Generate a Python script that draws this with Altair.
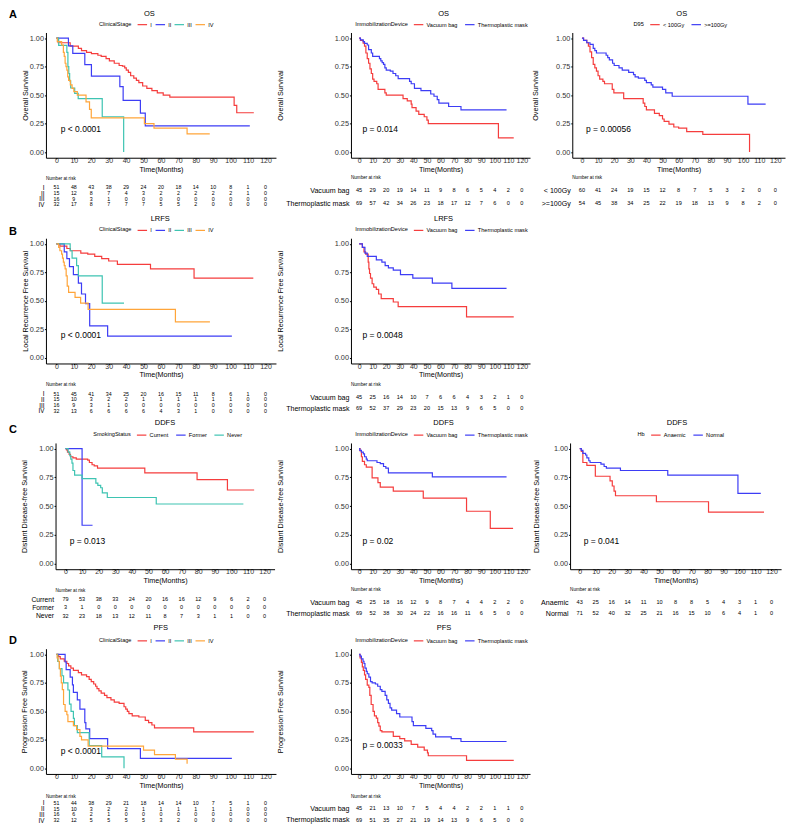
import altair as alt
import pandas as pd

FONT = "Liberation Sans"
RED, BLUE, TEAL, ORANGE = "#F53D3D", "#3D3DF5", "#3EC4B2", "#FFA53A"
XDOM = [-6, 126]
YDOM = [-0.05, 1.05]
TICKS = list(range(0, 121, 10))
PX = 2.5

# ---------------- OS ----------------
STAGES = ["I", "II", "III", "IV"]
OS_I_T = [0, 1, 7.9, 12.6, 14.4, 17.3, 20.1, 23.8, 25.7, 28.5, 30.4, 33.2, 36, 37.9, 39.2, 40.1, 41.3, 42.6, 44.4, 45.9, 47.3, 49.5, 51.9, 54.8, 57.9, 61.3, 65.1, 102, 103.5, 113.3]
OS_I_S = [1, .96, .93, .91, .89, .875, .865, .85, .84, .82, .80, .78, .76, .755, .74, .72, .70, .67, .65, .63, .61, .58, .56, .54, .52, .50, .483, .41, .345, .345]
OS_II_T = [0, 6.9, 9.4, 16.3, 20.1, 36.4, 38.3, 48.2, 51, 111]
OS_II_S = [1, .933, .867, .767, .667, .575, .454, .342, .23, .23]
OS_III_T = [0, 1.3, 6, 6.6, 7.1, 7.6, 8.2, 10.5, 12.5, 26.3, 38.6]
OS_III_S = [1, .9375, .875, .75, .69, .625, .5625, .516, .47, .31, 0]
OS_IV_T = [0, .5, 3, 4, 4.5, 5, 5.5, 6, 6.5, 7, 8, 9, 10, 12, 17, 19, 20, 50.5, 56, 75, 88]
OS_IV_S = [1, .97, .94, .875, .84, .78, .75, .72, .66, .63, .59, .56, .53, .50, .44, .375, .30, .25, .21, .16, .16]

DEVICES = ["Vacuum bag", "Thermoplastic mask"]
OS_VB_T = [0, 1, 3, 4, 5, 6, 7, 8, 9, 10, 11, 13, 14, 19, 20, 32.4, 35.5, 38.4, 39, 42, 44, 48, 50, 51, 102.7, 114]
OS_VB_S = [1, .98, .956, .93, .87, .82, .78, .73, .69, .64, .62, .60, .55, .52, .50, .47, .45, .42, .39, .36, .33, .31, .28, .25, .125, .125]
OS_TM_T = [0, 1, 3, 4, 6, 7, 9, 10, 15, 16, 17, 18, 19, 20, 23, 25, 27, 28.8, 37.2, 38.4, 40.8, 45.6, 52.8, 55.2, 57.6, 58.8, 66, 75.1, 108.7]
OS_TM_S = [1, .985, .97, .955, .94, .90, .87, .84, .82, .80, .785, .77, .74, .72, .71, .69, .67, .645, .62, .60, .56, .54, .51, .49, .46, .43, .40, .37, .37]

D95 = ["< 100Gy", ">=100Gy"]
OS_LO_T = [0, 1, 3, 4, 5, 6, 7, 8, 9, 10, 11, 13, 14, 18.8, 19.8, 25.9, 38, 39, 40, 45, 48, 50, 51, 54, 57, 60, 65, 75, 104]
OS_LO_S = [1, .98, .96, .93, .88, .83, .77, .74, .71, .67, .64, .62, .60, .55, .52, .47, .43, .40, .37, .34, .32, .29, .27, .245, .22, .21, .18, .155, 0]
OS_HI_T = [0, 1, 3, 5, 7, 8, 9, 15, 16, 17, 19, 20, 23, 25, 29, 32, 33, 35, 39, 40, 43, 44, 50, 52, 56, 103, 114]
OS_HI_S = [1, .98, .96, .945, .91, .89, .87, .85, .83, .81, .78, .76, .74, .72, .70, .68, .66, .65, .63, .61, .59, .57, .55, .52, .49, .42, .42]

# ---------------- LRFS ----------------
LR_I_T = [0, 2, 6, 8, 14, 18, 22, 26, 30, 35, 54, 79, 113]
LR_I_S = [1, .98, .96, .94, .92, .91, .89, .87, .85, .82, .78, .70, .70]
LR_II_T = [0, 4.5, 6, 7.5, 9.75, 12.6, 14.4, 16.7, 19.1, 29.4, 100.7]
LR_II_S = [1, .93, .87, .80, .73, .655, .56, .475, .28, .19, .19]
LR_III_T = [0, 7.9, 9, 11.6, 12.6, 26.3, 38.8]
LR_III_S = [1, .94, .875, .81, .72, .48, .48]
LR_IV_T = [0, 1.3, 2, 3, 3.5, 4, 4.5, 5, 5.6, 6.2, 7, 10.7, 13.9, 18.2, 68.3, 88.1]
LR_IV_S = [1, .97, .94, .91, .875, .84, .81, .78, .72, .63, .575, .53, .48, .425, .316, .316]
LR_VB_T = [0, 2.4, 3.6, 4.8, 6.7, 7.2, 7.7, 8.4, 9.6, 10.8, 12.7, 14.4, 16.3, 25.2, 28.8, 79.2, 114]
LR_VB_S = [1, .97, .93, .91, .84, .78, .74, .70, .65, .62, .60, .56, .52, .49, .45, .36, .36]
LR_TM_T = [0, 2.4, 4.3, 6, 12.7, 16.8, 19.2, 21.6, 25.2, 30.5, 39.6, 54, 68.4, 108.7]
LR_TM_S = [1, .97, .92, .89, .86, .84, .81, .79, .77, .73, .70, .655, .61, .61]

# ---------------- DDFS ----------------
SMOKING = ["Current", "Former", "Never"]
DD_CU_T = [0, .6, 1.2, 2.2, 3, 4.5, 6.5, 13.4, 14.4, 16, 17.3, 19.3, 47.8, 79.3, 97.6, 113.7]
DD_CU_S = [1, .99, .97, .95, .93, .92, .91, .90, .88, .86, .85, .83, .79, .73, .64, .64]
DD_FO_T = [0, 10, 16.3]
DD_FO_S = [1, .333, .333]
DD_NE_T = [0, 1.6, 2.6, 3.2, 3.9, 4.5, 5.5, 10, 18.3, 19.5, 21.2, 22.2, 25.2, 54.7, 107.2]
DD_NE_S = [1, .97, .94, .91, .875, .81, .77, .74, .70, .68, .66, .615, .575, .518, .518]
DD_VB_T = [0, .7, 1.7, 2.4, 4, 5.3, 9.6, 13.9, 15.6, 25.2, 47.3, 79.2, 96.7, 113.5]
DD_VB_S = [1, .98, .93, .89, .86, .84, .745, .705, .665, .63, .57, .455, .305, .305]
DD_TM_T = [0, .5, 1.7, 3.1, 4, 5.3, 6, 13.2, 15.6, 18, 19.7, 21.6, 54, 108.7]
DD_TM_S = [1, .985, .97, .955, .93, .91, .895, .88, .87, .845, .83, .79, .755, .755]
HB = ["Anaemic", "Normal"]
DD_AN_T = [0, 1, 2, 4.5, 9.8, 19, 20.4, 21.5, 22.4, 48, 80.6, 115.3]
DD_AN_S = [1, .977, .88, .855, .76, .72, .675, .63, .59, .538, .447, .447]
DD_NO_T = [0, 1, 2, 3.7, 4.5, 5.7, 6.5, 13.3, 15.3, 16.7, 25.5, 55.1, 99, 113.3]
DD_NO_S = [1, .985, .96, .945, .92, .895, .88, .865, .845, .83, .81, .77, .61, .61]

# ---------------- PFS ----------------
PF_I_T = [0, 1.3, 2.2, 4.5, 6, 7, 8.3, 9.75, 12.6, 14.4, 17.3, 18.8, 20, 21.4, 22.5, 23.3, 24.4, 25.7, 27.6, 29, 31.3, 33.2, 36, 38.8, 39.8, 40.7, 41.6, 43.5, 47.3, 51, 52.9, 54.8, 56.3, 78.8, 113.3]
PF_I_S = [1, .98, .96, .94, .92, .90, .88, .86, .84, .82, .805, .78, .76, .74, .72, .70, .68, .66, .64, .62, .60, .58, .57, .54, .52, .50, .48, .46, .45, .42, .40, .38, .355, .32, .32]
PF_II_T = [0, 5, 5.6, 7.9, 9.2, 9.75, 12, 13.5, 16.3, 16.9, 19.1, 29.4, 48.2, 100.7]
PF_II_S = [1, .933, .867, .80, .733, .667, .60, .52, .40, .345, .26, .172, .086, .086]
PF_III_T = [0, .75, 1.7, 3.2, 4.1, 6.6, 7.5, 8.4, 9.75, 10.3, 12, 18.8, 26, 38.8]
PF_III_S = [1, .9375, .875, .8125, .75, .6875, .5625, .50, .4375, .375, .3125, .20, .10, 0]
PF_IV_T = [0, .4, 1, 1.7, 2.3, 2.8, 3.4, 4.1, 5, 6, 6.6, 9.75, 11.6, 13.5, 14.4, 18.2, 50, 56.3, 68.3, 75]
PF_IV_S = [1, .97, .94, .875, .81, .75, .69, .56, .50, .47, .41, .375, .34, .28, .25, .195, .16, .12, .08, .04]
PF_VB_T = [0, .7, 1.7, 2.4, 3.1, 4, 4.8, 6, 7.2, 7.9, 8.9, 10.3, 11.3, 12.7, 13.7, 14.6, 15.6, 16.8, 25.2, 30, 33.6, 38.4, 43.2, 48, 50.4, 51, 79.2, 114]
PF_VB_S = [1, .97, .93, .89, .86, .82, .78, .73, .71, .64, .56, .50, .46, .44, .40, .37, .33, .32, .28, .26, .24, .21, .185, .16, .135, .11, .07, .07]
PF_TM_T = [0, .7, 1.7, 2.9, 3.6, 4.3, 5.3, 6, 7.2, 8.4, 9.6, 12, 13.7, 15.6, 16.8, 19.2, 20.4, 21.6, 22.8, 24, 27.6, 30, 39, 40, 49.2, 53.5, 54.5, 56.4, 67.9, 75.1, 108.7]
PF_TM_S = [1, .985, .96, .94, .92, .88, .85, .83, .80, .76, .75, .74, .72, .69, .675, .64, .60, .57, .53, .51, .48, .45, .41, .375, .35, .33, .30, .275, .26, .235, .235]

# ---------------- Numbers at risk ----------------
OS_RISK_I = [51, 48, 43, 38, 29, 24, 20, 18, 14, 10, 8, 1, 0]
OS_RISK_II = [15, 12, 8, 7, 4, 3, 2, 2, 2, 2, 2, 1, 0]
OS_RISK_III = [16, 9, 3, 1, 0, 0, 0, 0, 0, 0, 0, 0, 0]
OS_RISK_IV = [32, 17, 8, 7, 7, 7, 5, 5, 2, 0, 0, 0, 0]
OS_RISK_VB = [45, 29, 20, 19, 14, 11, 9, 8, 6, 5, 4, 2, 0]
OS_RISK_TM = [69, 57, 42, 34, 26, 23, 18, 17, 12, 7, 6, 0, 0]
OS_RISK_LO = [60, 41, 24, 19, 15, 12, 8, 7, 5, 3, 2, 0, 0]
OS_RISK_HI = [54, 45, 38, 34, 25, 22, 19, 18, 13, 9, 8, 2, 0]
LR_RISK_I = [51, 45, 41, 34, 25, 20, 16, 15, 11, 8, 6, 1, 0]
LR_RISK_II = [15, 10, 3, 2, 2, 1, 1, 1, 1, 1, 1, 0, 0]
LR_RISK_III = [16, 9, 3, 1, 0, 0, 0, 0, 0, 0, 0, 0, 0]
LR_RISK_IV = [32, 13, 6, 6, 6, 6, 4, 3, 1, 0, 0, 0, 0]
LR_RISK_VB = [45, 25, 16, 14, 10, 7, 6, 6, 4, 3, 2, 1, 0]
LR_RISK_TM = [69, 52, 37, 29, 23, 20, 15, 13, 9, 6, 5, 0, 0]
DD_RISK_CU = [79, 53, 38, 33, 24, 20, 16, 16, 12, 9, 6, 2, 0]
DD_RISK_FO = [3, 1, 0, 0, 0, 0, 0, 0, 0, 0, 0, 0, 0]
DD_RISK_NE = [32, 23, 18, 13, 12, 11, 8, 7, 3, 1, 1, 0, 0]
DD_RISK_VB = [45, 25, 18, 16, 12, 9, 8, 7, 4, 4, 2, 2, 0]
DD_RISK_TM = [69, 52, 38, 30, 24, 22, 16, 16, 11, 6, 5, 0, 0]
DD_RISK_AN = [43, 25, 16, 14, 11, 10, 8, 8, 5, 4, 3, 1, 0]
DD_RISK_NO = [71, 52, 40, 32, 25, 21, 16, 15, 10, 6, 4, 1, 0]
PF_RISK_I = [51, 44, 38, 29, 21, 18, 14, 14, 10, 7, 5, 1, 0]
PF_RISK_II = [15, 10, 3, 2, 2, 1, 1, 1, 1, 1, 1, 0, 0]
PF_RISK_III = [16, 6, 2, 1, 0, 0, 0, 0, 0, 0, 0, 0, 0]
PF_RISK_IV = [32, 12, 5, 5, 5, 5, 3, 2, 0, 0, 0, 0, 0]
PF_RISK_VB = [45, 21, 13, 10, 7, 5, 4, 4, 2, 2, 1, 1, 0]
PF_RISK_TM = [69, 51, 35, 27, 21, 19, 14, 13, 9, 6, 5, 0, 0]


def text_layer(label, px, py, size, weight="normal", align="center"):
    df = pd.DataFrame({"label": [label]})
    return alt.Chart(df).mark_text(align=align, baseline="middle", fontSize=size,
                                   fontWeight=weight, color="black").encode(
        x=alt.value(px), y=alt.value(py), text="label:N")


def km_panel(groups, times, survs, colors, legend_title, title, ytitle, pval, py,
             off, w, cw, h, lx, tx, ty, ytx, letter=None, letter_xy=None, col_pad=4.3):
    rows = []
    for g, ts, ss in zip(groups, times, survs):
        for t, s in zip(ts, ss):
            rows.append({"t": t, "s": s, "g": g})
    df = pd.DataFrame(rows)
    x = alt.X("t:Q", scale=alt.Scale(domain=XDOM, range=[off, off + w], nice=False, zero=False),
              axis=alt.Axis(values=TICKS, title="Time(Months)", grid=False, labelFontSize=7,
                            labelColor="#333333", labelPadding=-2.6, tickSize=1.2, tickColor="black",
                            domainColor="black", domainWidth=1, labelFlush=False, labelOverlap=False,
                            titleFontSize=7.2, titleFontWeight="normal", titleColor="black",
                            titleX=off + w / 2, titleY=11.3, titleBaseline="middle",
                            titleAlign="center"))
    y = alt.Y("s:Q", scale=alt.Scale(domain=YDOM, nice=False, zero=False),
              axis=alt.Axis(values=[0, 0.25, 0.5, 0.75, 1.0], format=".2f", title=ytitle, grid=False,
                            offset=-off,
                            labelFontSize=7.3, labelColor="#333333", labelPadding=1, tickSize=1.5,
                            tickColor="black", domainColor="black", domainWidth=1, labelFlush=False,
                            labelOverlap=False, titleFontSize=7.2, titleFontWeight="normal",
                            titleColor="black", titleX=ytx, titleY=h / 2, titleAngle=270,
                            titleBaseline="middle", titleAlign="center"))
    color = alt.Color("g:N", scale=alt.Scale(domain=groups, range=colors),
                      legend=alt.Legend(title=legend_title, orient="none", legendX=off + lx,
                                        legendY=-13.8, direction="horizontal", titleOrient="left",
                                        symbolType="stroke", symbolSize=90, symbolStrokeWidth=1.2,
                                        labelFontSize=5.6, titleFontSize=5.6, titleFontWeight="normal",
                                        labelColor="black", titleColor="black", labelOffset=2.5,
                                        columnPadding=col_pad, titlePadding=5, gridAlign="each"))
    lines = alt.Chart(df).mark_line(interpolate="step-after", strokeWidth=1.2).encode(
        x=x, y=y, color=color)
    pdf = pd.DataFrame({"t": [PX], "s": [py], "label": [pval]})
    ptxt = alt.Chart(pdf).mark_text(align="left", baseline="middle", fontSize=8.5,
                                    color="black").encode(x=x, y=y, text="label:N")
    layers = [lines, ptxt, text_layer(title, off + tx, ty, 7.5)]
    if letter:
        layers.append(text_layer(letter, letter_xy[0], letter_xy[1], 11, "bold", "left"))
    return alt.layer(*layers).properties(width=cw, height=h)


def risk_panel(groups, counts, off, w, cw, ch, y0, y1, nar_y, label_size, num_size):
    rows = []
    for g, cs in zip(groups, counts):
        for t, n in zip(TICKS, cs):
            rows.append({"t": t, "g": g, "n": n})
    df = pd.DataFrame(rows)
    nums = alt.Chart(df).mark_text(fontSize=num_size, color="black", baseline="middle").encode(
        x=alt.X("t:Q", scale=alt.Scale(domain=XDOM, range=[off, off + w], nice=False, zero=False),
                axis=None),
        y=alt.Y("g:N", sort=groups, scale=alt.Scale(domain=groups, range=[y0, y1]),
                axis=alt.Axis(title=None, domain=False, ticks=False, grid=False, offset=-off,
                              labelFontSize=label_size, labelColor="black", labelPadding=2)),
        text="n:Q",
    )
    nar = text_layer("Number at risk", off, nar_y, 4.6, align="left")
    return alt.layer(nums, nar).properties(width=cw, height=ch)


def spacer():
    return alt.Chart(pd.DataFrame({"a": [0]})).mark_point(opacity=0).properties(width=1, height=1)


STAGE_COLORS = [RED, BLUE, TEAL, ORANGE]
TWO = [RED, BLUE]
W1, W2, W3A, W1C, W3C = 230.3, 179.3, 213.0, 219.3, 211.3
CW1, CW2, CW3 = 230.3, 253.7, 255.0
OFF2 = 74.4
HA, HC = 125.4, 126.4
SP = 0
LXS = 53.0

# ---- Row A
kA1 = km_panel(STAGES, [OS_I_T, OS_II_T, OS_III_T, OS_IV_T], [OS_I_S, OS_II_S, OS_III_S, OS_IV_S],
               STAGE_COLORS, "ClinicalStage", "OS", "Overall Survival", "p < 0.0001", 0.2,
               0, W1, CW1, HA, LXS, 103.6, -18.8, -20.6, "A", (-37, -17.3), col_pad=SP)
kA2 = km_panel(DEVICES, [OS_VB_T, OS_TM_T], [OS_VB_S, OS_TM_S], TWO, "ImmobilizationDevice", "OS",
               "Overall Survival", "p = 0.014", 0.2, OFF2, W2, CW2, HA, 4.2, 92.7, -18.8, -70.6)
kA3 = km_panel(D95, [OS_LO_T, OS_HI_T], [OS_LO_S, OS_HI_S], TWO, "D95", "OS",
               "Overall Survival", "p = 0.00056", 0.2, 42.0, W3A, CW3, HA, 61.3, 109.6, -18.8, -36.9)
TA = 79.4
tA1 = risk_panel(STAGES, [OS_RISK_I, OS_RISK_II, OS_RISK_III, OS_RISK_IV], 0, W1, CW1, TA,
                 26.4, 48.6, 20.3, 6.3, 5.3)
tA2 = risk_panel(DEVICES, [OS_RISK_VB, OS_RISK_TM], OFF2, W2, CW2, TA, 25.3, 51.3, 19.2, 7.1, 5.6)
tA3 = risk_panel(D95, [OS_RISK_LO, OS_RISK_HI], 42.0, W3A, CW3, TA, 25.3, 51.3, 19.2, 7.1, 5.6)

# ---- Row B
kB1 = km_panel(STAGES, [LR_I_T, LR_II_T, LR_III_T, LR_IV_T], [LR_I_S, LR_II_S, LR_III_S, LR_IV_S],
               STAGE_COLORS, "ClinicalStage", "LRFS", "Local Recurrence Free Survival", "p < 0.0001",
               0.2, 0, W1, CW1, HA, LXS, 114.4, -18.8, -20.6, "B", (-37, -5.8), col_pad=SP)
kB2 = km_panel(DEVICES, [LR_VB_T, LR_TM_T], [LR_VB_S, LR_TM_S], TWO, "ImmobilizationDevice", "LRFS",
               "Local Recurrence Free Survival", "p = 0.0048", 0.2, OFF2, W2, CW2, HA, 4.2, 92.7,
               -18.8, -70.6)
TB = 78.7
tB1 = risk_panel(STAGES, [LR_RISK_I, LR_RISK_II, LR_RISK_III, LR_RISK_IV], 0, W1, CW1, TB,
                 26.7, 49.8, 21.1, 6.3, 5.3)
tB2 = risk_panel(DEVICES, [LR_RISK_VB, LR_RISK_TM], OFF2, W2, CW2, TB, 27.6, 49.8, 21.1, 7.1, 5.6)

# ---- Row C
kC1 = km_panel(SMOKING, [DD_CU_T, DD_FO_T, DD_NE_T], [DD_CU_S, DD_FO_S, DD_NE_S], [RED, BLUE, TEAL],
               "SmokingStatus", "DDFS", "Distant Disease-free Survival", "p = 0.013", 0.2,
               9.6, W1C, CW1, HC, 37.7, 109.6, -20.3, -30.9, "C", (-37, -13.2))
kC2 = km_panel(DEVICES, [DD_VB_T, DD_TM_T], [DD_VB_S, DD_TM_S], TWO, "ImmobilizationDevice", "DDFS",
               "Distant Disease-free Survival", "p = 0.02", 0.2, OFF2, W2, CW2, HC, 4.2, 92.7,
               -20.3, -70.6)
kC3 = km_panel(HB, [DD_AN_T, DD_NO_T], [DD_AN_S, DD_NO_S], TWO, "Hb", "DDFS",
               "Distant Disease-free Survival", "p = 0.041", 0.2, 39.8, W3C, CW3, HC, 67.4, 107.0,
               -20.3, -33.8)
TC = 78.4
tC1 = risk_panel(SMOKING, [DD_RISK_CU, DD_RISK_FO, DD_RISK_NE], 9.6, W1C, CW1, TC,
                 25.5, 49.9, 20.75, 6.8, 5.5)
tC2 = risk_panel(DEVICES, [DD_RISK_VB, DD_RISK_TM], OFF2, W2, CW2, TC, 26.5, 49.5, 20.5, 7.1, 5.6)
tC3 = risk_panel(HB, [DD_RISK_AN, DD_RISK_NO], 39.8, W3C, CW3, TC, 26.5, 49.5, 20.5, 7.1, 5.6)

# ---- Row D
kD1 = km_panel(STAGES, [PF_I_T, PF_II_T, PF_III_T, PF_IV_T], [PF_I_S, PF_II_S, PF_III_S, PF_IV_S],
               STAGE_COLORS, "ClinicalStage", "PFS", "Progression Free Survival", "p < 0.0001", 0.15,
               0, W1, CW1, HA, LXS, 114.9, -20.6, -21.1, "D", (-37, -8), col_pad=SP)
kD2 = km_panel(DEVICES, [PF_VB_T, PF_TM_T], [PF_VB_S, PF_TM_S], TWO, "ImmobilizationDevice", "PFS",
               "Progression Free Survival", "p = 0.0033", 0.2, OFF2, W2, CW2, HA, 4.2, 93.2,
               -20.6, -70.6)
TD = 50.6
tD1 = risk_panel(STAGES, [PF_RISK_I, PF_RISK_II, PF_RISK_III, PF_RISK_IV], 0, W1, CW1, TD,
                 25.4, 48.5, 22.4, 6.3, 5.3)
tD2 = risk_panel(DEVICES, [PF_RISK_VB, PF_RISK_TM], OFF2, W2, CW2, TD, 28.4, 50.6, 22.5, 7.1, 5.6)

cells = [kA1, kA2, kA3, tA1, tA2, tA3,
         kB1, kB2, spacer(), tB1, tB2, spacer(),
         kC1, kC2, kC3, tC1, tC2, tC3,
         kD1, kD2, spacer(), tD1, tD2, spacer()]

chart = (alt.concat(*cells, columns=3, spacing=0, bounds="flush", align="each")
         .resolve_scale(x="independent", y="independent", color="independent")
         .resolve_axis(x="independent", y="independent")
         .resolve_legend(color="independent")
         .properties(padding=0)
         .configure(font=FONT)
         .configure_view(stroke="transparent"))

chart.save("out.html", embed_options={"renderer": "svg", "actions": False})
